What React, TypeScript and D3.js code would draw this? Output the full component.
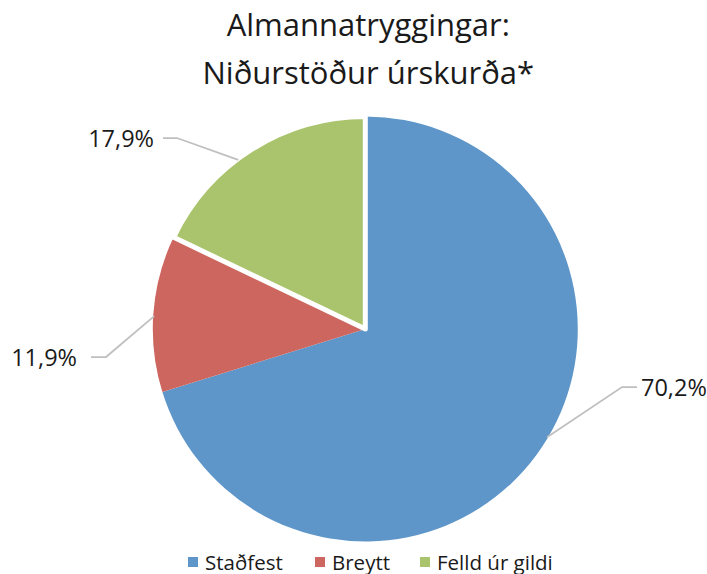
import React from "react";
import * as d3 from "d3";

const categories = ["Staðfest", "Breytt", "Felld úr gildi"];
const values = [70.2, 11.9, 17.9];
const labels = ["70,2%", "11,9%", "17,9%"];
const colors = ["#5E96C9", "#CC665F", "#A9C46C"];
const titleLines = ["Almannatryggingar:", "Niðurstöður úrskurða*"];

const W = 707;
const H = 574;
const cx = 365.3;
const cy = 329;
const R = 212.5;
const FONT = "'Open Sans', 'Noto Sans', sans-serif";

// label layout: anchor fraction along slice, elbow x/y, text side
const labelLayout = [
  { f: 0.478, ex: 622, ey: 387, hx: 637, anchor: "start", tx: 641 },
  { f: 0.485, ex: 106, ey: 357, hx: 91, anchor: "end", tx: 77 },
  { f: 0.427, ex: 177, ey: 138, hx: 163, anchor: "end", tx: 154 },
];

export default function App() {
  const pie = d3.pie<number>().sort(null).value((d) => d);
  const arcs = pie(values);
  const arc = d3.arc<d3.PieArcDatum<number>>().innerRadius(0).outerRadius(R);

  return (
    <svg width={W} height={H} style={{ position: "absolute", left: 0, top: 0 }}>
      <rect width={W} height={H} fill="#fff" />
      {titleLines.map((t, i) => (
        <text
          key={i}
          x={cx + 3}
          y={36 + i * 48}
          textAnchor="middle"
          fontFamily={FONT}
          fontSize={31}
          fill="#1a1a1a"
        >
          {t}
        </text>
      ))}
      <g transform={`translate(${cx},${cy})`}>
        {arcs.map((a, i) => (
          <path
            key={i}
            d={arc(a) || ""}
            fill={colors[i]}
            stroke={i === 2 ? "#fff" : "none"}
            strokeWidth={i === 2 ? 5 : 0}
            strokeLinejoin="round"
          />
        ))}
      </g>
      {arcs.map((a, i) => {
        const L = labelLayout[i];
        const ang = a.startAngle + (a.endAngle - a.startAngle) * L.f;
        const px = cx + (R - 1) * Math.sin(ang);
        const py = cy - (R - 1) * Math.cos(ang);
        return (
          <g key={i}>
            <polyline
              points={`${px},${py} ${L.ex},${L.ey} ${L.hx},${L.ey}`}
              fill="none"
              stroke="#BFBFBF"
              strokeWidth={1.75}
            />
            <text
              x={L.tx}
              y={L.ey + 8.5}
              textAnchor={L.anchor as any}
              fontFamily={FONT}
              fontSize={23.5}
              fill="#1a1a1a"
            >
              {labels[i]}
            </text>
          </g>
        );
      })}
      {(() => {
        const xs = [188, 315, 420];
        return categories.map((c, i) => (
          <g key={i}>
            <rect x={xs[i]} y={557} width={10} height={10} fill={colors[i]} />
            <text x={xs[i] + 17} y={569.5} fontFamily={FONT} fontSize={20.5} fill="#1a1a1a">
              {c}
            </text>
          </g>
        ));
      })()}
    </svg>
  );
}
